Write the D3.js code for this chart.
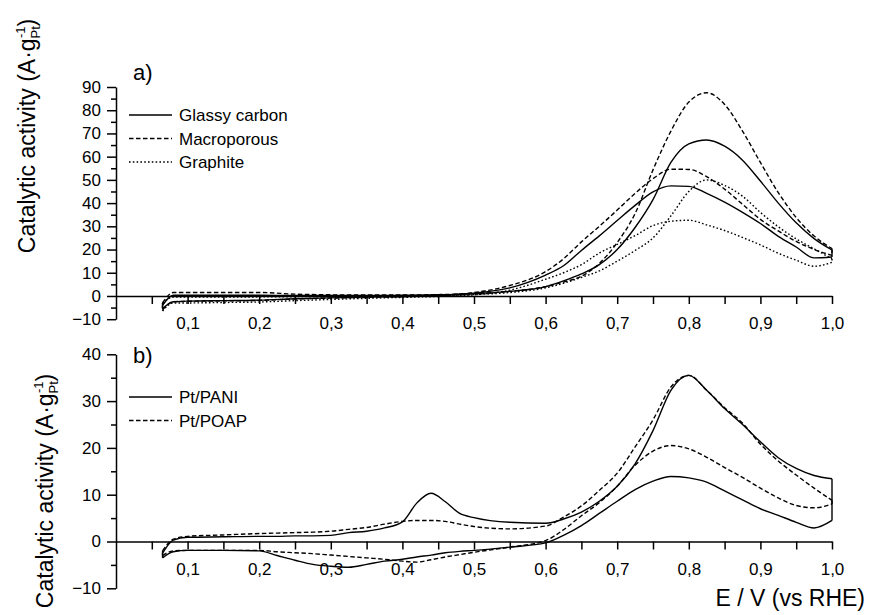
<!DOCTYPE html>
<html>
<head>
<meta charset="utf-8">
<script src="https://cdn.jsdelivr.net/npm/d3@7"></script>
<style>
body { margin: 0; background: #fff; }
text { font-family: "Liberation Sans", Arial, sans-serif; fill: #000; }
</style>
</head>
<body>
<svg id="chart" width="871" height="615"></svg>
<script>
// potential grid for panel a) (V vs RHE)
var eTop = [0.065, 0.08, 0.1, 0.15, 0.2, 0.25, 0.3, 0.35, 0.4, 0.45, 0.5, 0.55, 0.6, 0.625, 0.65,
  0.675, 0.7, 0.725, 0.75, 0.775, 0.8, 0.825, 0.85, 0.875, 0.9, 0.925, 0.95, 0.975, 1.0];

// panel a) catalytic activity, forward and backward scans
var glassyFwd = [-4, 0.3, 0.3, 0.3, 0.3, 0.2, 0.2, 0.2, 0.3, 0.5, 1.0, 2.0, 4.0, 6.5, 9.5,
  13.5, 20.0, 29.5, 41.5, 57.5, 65.5, 67.2, 64.5, 58.5, 49.5, 40.0, 31.5, 24.7, 19.8];
var glassyBwd = [-5.5, -2.5, -2.2, -2.0, -1.8, -1.2, -0.8, -0.5, -0.2, 0.2, 1.2, 3.5, 9.0, 13.0, 19.6,
  25.9, 32.5, 39.0, 44.8, 47.4, 47.2, 44.2, 40.4, 36.0, 31.2, 25.7, 21.1, 16.4, 16.8];
var macroFwd = [-3, 1.5, 1.5, 1.5, 1.5, 0.8, 0.5, 0.4, 0.4, 0.6, 1.0, 2.0, 4.0, 6.0, 8.5,
  14.0, 23.0, 35.5, 54.3, 71.0, 83.5, 87.5, 82.5, 71.0, 57.5, 44.5, 33.8, 25.8, 20.4];
var macroBwd = [-6, -2.5, -2.3, -2.1, -1.9, -1.3, -0.9, -0.6, -0.3, 0.2, 1.5, 4.5, 10.5, 16.0, 23.3,
  30.0, 37.0, 44.2, 50.5, 54.6, 54.5, 51.4, 46.0, 39.5, 33.0, 28.0, 23.5, 20.0, 17.5];
var graphiteFwd = [-3, -0.5, -0.5, -0.5, -0.4, -0.3, -0.2, -0.1, 0, 0.2, 0.6, 1.5, 3.5, 5.5, 8.0,
  10.8, 15.0, 19.6, 25.0, 34.5, 45.0, 50.0, 47.6, 43.0, 36.0, 29.8, 24.6, 20.3, 16.0];
var graphiteBwd = [-6.5, -3.0, -3.0, -2.8, -2.6, -2.0, -1.5, -1.0, -0.6, -0.2, 0.5, 2.5, 7.2, 10.0, 13.5,
  18.5, 22.2, 26.0, 30.3, 32.2, 32.6, 30.6, 28.2, 25.2, 22.0, 18.4, 15.4, 12.8, 14.5];

// potential grid for panel b)
var eBot = [0.065, 0.08, 0.1, 0.15, 0.2, 0.225, 0.25, 0.275, 0.3, 0.325, 0.35, 0.375, 0.4, 0.42, 0.44,
  0.46, 0.48, 0.5, 0.55, 0.6, 0.625, 0.65, 0.675, 0.7, 0.725, 0.75, 0.775, 0.8, 0.825, 0.85,
  0.875, 0.9, 0.925, 0.95, 0.975, 1.0];

var paniFwd = [-2.5, 0.3, 0.9, 1.0, 1.1, 1.1, 1.2, 1.2, 1.3, 1.9, 2.2, 2.9, 4.2, 8.2, 10.3,
  8.5, 6.0, 5.1, 4.1, 3.9, 4.8, 6.3, 8.6, 11.8, 16.6, 23.7, 32.3, 35.5, 32.3, 28.4,
  25.0, 21.3, 17.9, 15.6, 14.1, 13.4];
var paniBwd = [-3.5, -2.2, -1.9, -1.9, -2.0, -3.0, -4.0, -4.9, -5.3, -5.5, -4.9, -4.2, -3.8, -3.3, -2.9,
  -2.4, -2.1, -1.9, -1.2, -0.3, 1.3, 3.4, 6.0, 8.6, 11.1, 12.9, 13.9, 13.6, 12.7, 10.8,
  8.9, 7.0, 5.6, 4.1, 2.9, 4.5];
var poapFwd = [-2.0, 0.5, 1.1, 1.4, 1.7, 1.8, 1.9, 2.0, 2.2, 2.6, 3.0, 3.7, 4.3, 4.5, 4.5,
  4.3, 3.7, 3.2, 2.7, 3.3, 5.2, 7.6, 10.9, 14.6, 20.2, 26.0, 33.0, 35.5, 32.3, 28.6,
  25.3, 20.8, 17.2, 14.2, 11.4, 8.8];
var poapBwd = [-3.0, -2.0, -1.9, -1.9, -1.9, -2.2, -2.4, -2.6, -2.9, -3.2, -3.5, -3.8, -4.2, -4.4, -3.9,
  -3.3, -2.8, -2.3, -1.2, 0.2, 2.5, 5.5, 8.3, 11.8, 16.3, 19.3, 20.5, 19.8, 18.0, 15.8,
  13.7, 11.4, 9.3, 7.7, 7.2, 8.0];

var topNames = ["Glassy carbon", "Macroporous", "Graphite"];
var botNames = ["Pt/PANI", "Pt/POAP"];

// ticks
var xTicks = [0.1, 0.2, 0.3, 0.4, 0.5, 0.6, 0.7, 0.8, 0.9, 1.0];
var xMinor = [0.05, 0.15, 0.25, 0.35, 0.45, 0.55, 0.65, 0.75, 0.85, 0.95];
var yTopTicks = [-10, 0, 10, 20, 30, 40, 50, 60, 70, 80, 90];
var yTopMinor = [-5, 5, 15, 25, 35, 45, 55, 65, 75, 85];
var yBotTicks = [-10, 0, 10, 20, 30, 40];
var yBotMinor = [-5, 5, 15, 25, 35];

var svg = d3.select("#chart");
var x = d3.scaleLinear().domain([0, 1]).range([116, 832]);
var yA = d3.scaleLinear().domain([-10, 90]).range([319.2, 87]);
var yB = d3.scaleLinear().domain([-10, 40]).range([588.3, 354.3]);

var commaFmt = function(d) { return d3.format(".1f")(d).replace(".", ","); };

function drawAxes(y, yTicks, yMinor) {
  // horizontal axis along zero
  var gx = svg.append("g").attr("transform", "translate(0," + y(0) + ")");
  gx.call(d3.axisBottom(x).tickValues(xTicks).tickFormat(commaFmt)
    .tickSize(8).tickSizeOuter(0).tickPadding(13));
  gx.append("g").call(d3.axisBottom(x).tickValues(xMinor).tickFormat("").tickSize(8).tickSizeOuter(0))
    .select(".domain").remove();
  // vertical axis
  var gy = svg.append("g").attr("transform", "translate(" + x(0) + ",0)");
  gy.call(d3.axisLeft(y).tickValues(yTicks).tickFormat(d3.format("d"))
    .tickSize(9).tickSizeOuter(0).tickPadding(6));
  gy.append("g").call(d3.axisLeft(y).tickValues(yMinor).tickFormat("").tickSize(5).tickSizeOuter(0))
    .select(".domain").remove();
  [gx, gy].forEach(function(g) {
    g.selectAll("path,line").attr("stroke", "#000").attr("stroke-width", 1.5);
    g.selectAll("text").attr("font-size", 17).attr("font-family", "Liberation Sans, Arial, sans-serif").attr("fill", "#000");
  });
}

function drawLoop(y, eGrid, fwd, bwd, dash) {
  var line = d3.line().x(function(d) { return x(d[0]); }).y(function(d) { return y(d[1]); })
    .curve(d3.curveMonotoneX);
  var straight = d3.line().x(function(d) { return x(d[0]); }).y(function(d) { return y(d[1]); });
  var n = eGrid.length - 1;
  var parts = [
    line(eGrid.map(function(e, i) { return [e, fwd[i]]; })),
    line(eGrid.map(function(e, i) { return [e, bwd[i]]; })),
    straight([[eGrid[n], fwd[n]], [eGrid[n], bwd[n]]]),
    straight([[eGrid[0], fwd[0]], [eGrid[0], bwd[0]]])
  ];
  parts.forEach(function(p) {
    svg.append("path").attr("d", p).attr("fill", "none").attr("stroke", "#000")
      .attr("stroke-width", 1.4).attr("stroke-dasharray", dash);
  });
}

function drawLegend(names, dashes, top) {
  names.forEach(function(name, i) {
    var yy = top + i * 23.5;
    svg.append("line").attr("x1", 129).attr("x2", 172).attr("y1", yy).attr("y2", yy)
      .attr("stroke", "#000").attr("stroke-width", 1.4).attr("stroke-dasharray", dashes[i]);
    svg.append("text").attr("x", 179).attr("y", yy + 6).attr("font-size", 17).text(name);
  });
}

function yTitle(xBase, yMid) {
  var t = svg.append("text").attr("transform", "translate(" + xBase + "," + yMid + ") rotate(-90)")
    .attr("text-anchor", "middle").attr("font-size", 23);
  t.append("tspan").text("Catalytic activity (A\u00b7g");
  t.append("tspan").attr("font-size", 13).attr("dy", 5).text("Pt");
  t.append("tspan").attr("font-size", 13).attr("dx", -12).attr("dy", -15).text("-1");
  t.append("tspan").attr("dy", 10).text(")");
}

var dashes = [null, "4.5,2.5", "1.6,2.2"];

// panel a)
drawAxes(yA, yTopTicks, yTopMinor);
drawLoop(yA, eTop, glassyFwd, glassyBwd, dashes[0]);
drawLoop(yA, eTop, macroFwd, macroBwd, dashes[1]);
drawLoop(yA, eTop, graphiteFwd, graphiteBwd, dashes[2]);
drawLegend(topNames, dashes, 115);
svg.append("text").attr("x", 133).attr("y", 80).attr("font-size", 22).text("a)");
yTitle(35, 136);

// panel b)
drawAxes(yB, yBotTicks, yBotMinor);
drawLoop(yB, eBot, paniFwd, paniBwd, dashes[0]);
drawLoop(yB, eBot, poapFwd, poapBwd, dashes[1]);
drawLegend(botNames, dashes, 397);
svg.append("text").attr("x", 133).attr("y", 363).attr("font-size", 22).text("b)");
yTitle(53, 491);

svg.append("text").attr("x", 865).attr("y", 606).attr("text-anchor", "end")
  .attr("font-size", 23).text("E / V (vs RHE)");
</script>
</body>
</html>
